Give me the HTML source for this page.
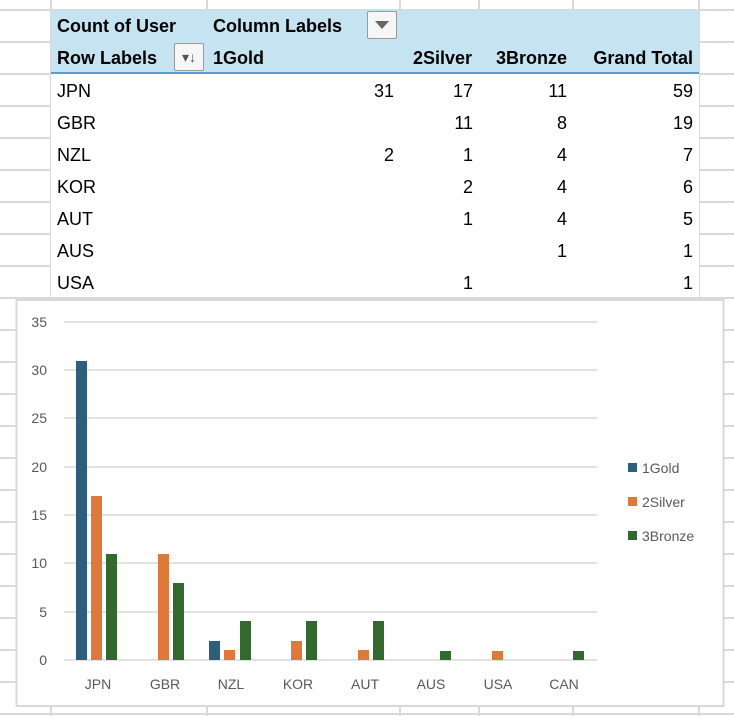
<!DOCTYPE html><html><head><style>
body{margin:0;width:734px;height:716px;background:#fff;position:relative;overflow:hidden;font-family:"Liberation Sans",sans-serif;}
.a{position:absolute}
.vl{position:absolute;width:2px;background:#d9d9d9;top:0;height:716px}
.hl{position:absolute;height:2px;background:#d9d9d9;left:0;width:734px}
.t{position:absolute;font-size:18px;color:#000;line-height:20px;white-space:nowrap}
.b{font-weight:bold}
.r{text-align:right}
</style></head><body>
<div class="vl" style="left:50px"></div><div class="vl" style="left:206px"></div><div class="vl" style="left:399px"></div><div class="vl" style="left:478px"></div><div class="vl" style="left:572px"></div><div class="vl" style="left:698px"></div>
<div class="hl" style="top:9px"></div><div class="hl" style="top:41px"></div><div class="hl" style="top:73px"></div><div class="hl" style="top:105px"></div><div class="hl" style="top:137px"></div><div class="hl" style="top:169px"></div><div class="hl" style="top:201px"></div><div class="hl" style="top:233px"></div><div class="hl" style="top:265px"></div><div class="hl" style="top:297px"></div><div class="hl" style="top:329px"></div><div class="hl" style="top:361px"></div><div class="hl" style="top:393px"></div><div class="hl" style="top:425px"></div><div class="hl" style="top:457px"></div><div class="hl" style="top:489px"></div><div class="hl" style="top:521px"></div><div class="hl" style="top:553px"></div><div class="hl" style="top:585px"></div><div class="hl" style="top:617px"></div><div class="hl" style="top:649px"></div><div class="hl" style="top:681px"></div><div class="hl" style="top:713px"></div>
<div class="a" style="left:51px;top:10px;width:648px;height:64px;background:#c6e3f2"></div>
<div class="a" style="left:51px;top:72px;width:648px;height:2px;background:#5b9bd5"></div>
<div class="a" style="left:51px;top:74px;width:648px;height:223px;background:#fff"></div>
<div class="a" style="left:367px;top:11px;width:28px;height:26px;border:1px solid #999;background:#f6f6f6;border-radius:2px"><div class="a" style="left:7px;top:9px;border-left:7px solid transparent;border-right:7px solid transparent;border-top:8px solid #666"></div></div>
<div class="a" style="left:174px;top:43px;width:28px;height:26px;border:1px solid #999;background:#f6f6f6;border-radius:2px;font-size:14px;text-align:center;line-height:26px;color:#555">▾↓</div>
<div class="t b" style="left:57px;top:16px">Count of User</div>
<div class="t b" style="left:213px;top:16px">Column Labels</div>
<div class="t b" style="left:57px;top:48px">Row Labels</div>
<div class="t b" style="left:213px;top:48px">1Gold</div>
<div class="t b r" style="left:380px;top:48px;width:92px">2Silver</div>
<div class="t b r" style="left:470px;top:48px;width:97px">3Bronze</div>
<div class="t b r" style="left:560px;top:48px;width:133px">Grand Total</div>
<div class="t" style="left:57px;top:81px;line-height:20px">JPN<br><span style="display:block;height:12px"></span>GBR<br><span style="display:block;height:12px"></span>NZL<br><span style="display:block;height:12px"></span>KOR<br><span style="display:block;height:12px"></span>AUT<br><span style="display:block;height:12px"></span>AUS<br><span style="display:block;height:12px"></span>USA</div>
<div class="t r" style="left:300px;top:81px;width:94px">31<br><span style="display:block;height:12px"></span><br><span style="display:block;height:12px"></span>2</div>
<div class="t r" style="left:400px;top:81px;width:73px">17<br><span style="display:block;height:12px"></span>11<br><span style="display:block;height:12px"></span>1<br><span style="display:block;height:12px"></span>2<br><span style="display:block;height:12px"></span>1<br><span style="display:block;height:12px"></span><br><span style="display:block;height:12px"></span>1</div>
<div class="t r" style="left:479px;top:81px;width:88px">11<br><span style="display:block;height:12px"></span>8<br><span style="display:block;height:12px"></span>4<br><span style="display:block;height:12px"></span>4<br><span style="display:block;height:12px"></span>4<br><span style="display:block;height:12px"></span>1</div>
<div class="t r" style="left:573px;top:81px;width:120px">59<br><span style="display:block;height:12px"></span>19<br><span style="display:block;height:12px"></span>7<br><span style="display:block;height:12px"></span>6<br><span style="display:block;height:12px"></span>5<br><span style="display:block;height:12px"></span>1<br><span style="display:block;height:12px"></span>1</div>
<svg class="a" style="left:0;top:0" width="734" height="716" font-family="Liberation Sans, sans-serif">
<rect x="16.5" y="300" width="707" height="406" fill="#fff" stroke="#d9d9d9" stroke-width="2"/>
<g stroke="#d9d9d9" stroke-width="1.5">
<line x1="64" x2="597" y1="322" y2="322"/><line x1="64" x2="597" y1="370" y2="370"/><line x1="64" x2="597" y1="418" y2="418"/><line x1="64" x2="597" y1="467" y2="467"/><line x1="64" x2="597" y1="515" y2="515"/><line x1="64" x2="597" y1="563" y2="563"/><line x1="64" x2="597" y1="612" y2="612"/><line x1="64" x2="597" y1="660" y2="660"/>
</g>
<g font-size="14" fill="#595959" text-anchor="end">
<text x="47" y="327">35</text><text x="47" y="375">30</text><text x="47" y="423">25</text><text x="47" y="472">20</text><text x="47" y="520">15</text><text x="47" y="568">10</text><text x="47" y="617">5</text><text x="47" y="665">0</text>
</g>
<g>
<rect x="76" y="361" width="11" height="299" fill="#2e5e7e"/>
<rect x="91" y="496" width="11" height="164" fill="#de783b"/>
<rect x="106" y="554" width="11" height="106" fill="#33692e"/>
<rect x="158" y="554" width="11" height="106" fill="#de783b"/>
<rect x="173" y="583" width="11" height="77" fill="#33692e"/>
<rect x="209" y="641" width="11" height="19" fill="#2e5e7e"/>
<rect x="224" y="650" width="11" height="10" fill="#de783b"/>
<rect x="240" y="621" width="11" height="39" fill="#33692e"/>
<rect x="291" y="641" width="11" height="19" fill="#de783b"/>
<rect x="306" y="621" width="11" height="39" fill="#33692e"/>
<rect x="358" y="650" width="11" height="10" fill="#de783b"/>
<rect x="373" y="621" width="11" height="39" fill="#33692e"/>
<rect x="440" y="651" width="11" height="9" fill="#33692e"/>
<rect x="492" y="651" width="11" height="9" fill="#de783b"/>
<rect x="573" y="651" width="11" height="9" fill="#33692e"/>
</g>
<g font-size="14" fill="#595959" text-anchor="middle">
<text x="98" y="689">JPN</text><text x="165" y="689">GBR</text><text x="231" y="689">NZL</text><text x="298" y="689">KOR</text><text x="365" y="689">AUT</text><text x="431" y="689">AUS</text><text x="498" y="689">USA</text><text x="564" y="689">CAN</text>
</g>
<rect x="628" y="463" width="9" height="9" fill="#2e5e7e"/><rect x="628" y="497" width="9" height="9" fill="#de783b"/><rect x="628" y="531" width="9" height="9" fill="#33692e"/>
<g font-size="14" fill="#595959"><text x="642" y="473">1Gold</text><text x="642" y="507">2Silver</text><text x="642" y="541">3Bronze</text></g>
</svg>
</body></html>
